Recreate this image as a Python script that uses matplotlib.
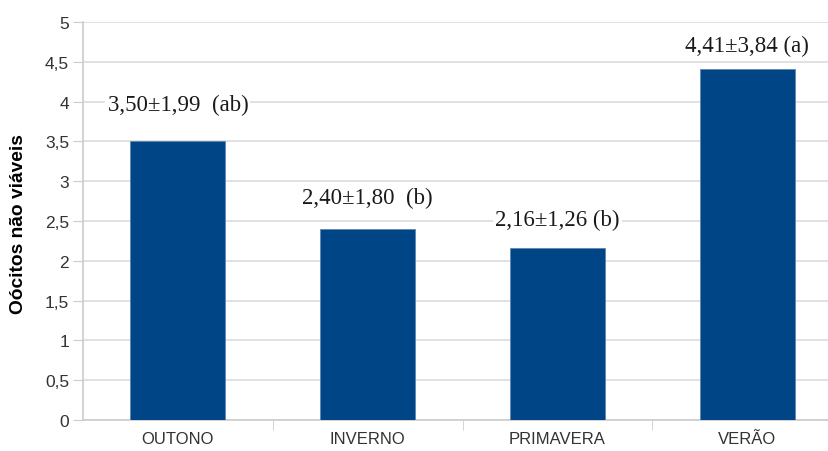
import matplotlib
matplotlib.use('Agg')
from matplotlib import pyplot as plt
from matplotlib.ticker import FuncFormatter, MultipleLocator, FixedLocator

seasons = ['OUTONO', 'INVERNO', 'PRIMAVERA', 'VERÃO']
means = [3.50, 2.40, 2.16, 4.41]
labels = ['3,50±1,99  (ab)', '2,40±1,80  (b)', '2,16±1,26 (b)', '4,41±3,84 (a)']
label_y = [3.97, 2.80, 2.52, 4.71]

W, H = 829, 452
fig = plt.figure(figsize=(W / 100, H / 100), dpi=100)
ax = fig.add_axes([83 / W, 1 - 421 / H, (W - 83) / W, (421 - 23) / H])

x = range(len(seasons))
ax.bar(x, means, width=0.5, color='#004586', edgecolor='#5f86b3', linewidth=0.6, zorder=3)

for i, (t, yy) in enumerate(zip(labels, label_y)):
    ax.text(i, yy, t, ha='center', va='center', fontsize=16.5,
            family='Liberation Serif', color='#1a1a1a', zorder=4,
            bbox=dict(facecolor='white', edgecolor='none', pad=1.5))

ax.set_xlim(-0.5, 3.43)
ax.set_ylim(0, 5)
ax.yaxis.set_major_locator(MultipleLocator(0.5))
ax.yaxis.set_major_formatter(FuncFormatter(lambda v, p: f'{v:g}'.replace('.', ',')))
ax.grid(axis='y', color='#dcdcdc', linewidth=1.2, zorder=0)

ax.set_xticks(list(x))
ax.set_xticklabels(seasons)
ax.xaxis.set_minor_locator(FixedLocator([0.5, 1.5, 2.5]))
ax.tick_params(axis='x', which='major', length=0, pad=8, labelsize=12, labelcolor='#333333')
ax.tick_params(axis='x', which='minor', length=7, color='#cccccc')
ax.tick_params(axis='y', length=7, color='#cccccc', labelsize=12.5, labelcolor='#333333', pad=3)
for lbl in ax.get_xticklabels() + ax.get_yticklabels():
    lbl.set_family('Liberation Sans')

for s in ['top', 'right']:
    ax.spines[s].set_visible(False)
for s in ['left', 'bottom']:
    ax.spines[s].set_color('#cccccc')
    ax.spines[s].set_linewidth(1.2)

ax.set_ylabel('Oócitos não viáveis', fontsize=13.8, fontweight='bold',
              family='Liberation Sans', color='black')
ax.yaxis.set_label_coords(-(83 - 27) / (W - 83), 0.495)

fig.savefig('out.png', dpi=100)
